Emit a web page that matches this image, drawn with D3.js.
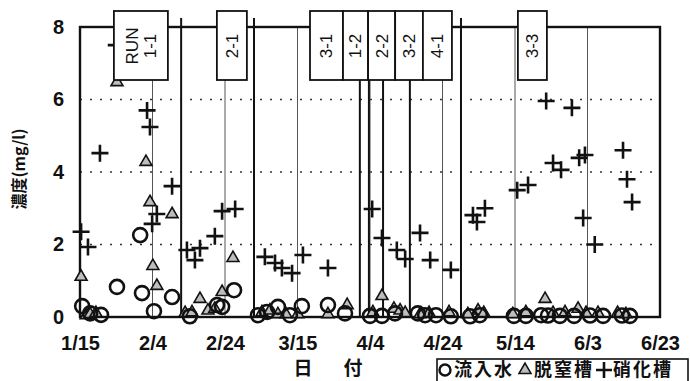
<!DOCTYPE html>
<html>
<head>
<meta charset="utf-8">
<script src="https://cdn.jsdelivr.net/npm/d3@7"></script>
<style>
  body { margin: 0; background: #fff; }
  svg { display: block; font-family: "Liberation Sans", Arial, sans-serif; }
  .jp { font-family: "Noto Sans CJK JP", "Liberation Sans", sans-serif; }
</style>
</head>
<body>
<figure id="chart" style="margin:0"></figure>
<script>
// x values are days counted from 1/15, y values are mg/l
const tickDays = [0, 20, 40, 60, 80, 100, 120, 140, 160];
const tickLabels = ['1/15', '2/4', '2/24', '3/15', '4/4', '4/24', '5/14', '6/3', '6/23'];
const yTicks = [0, 2, 4, 6, 8];
const yGrid = [2, 4, 6];

// run boundaries (day) and run labels
const runBoundaries = [27.9, 48, 77.2, 79.7, 83.6, 91, 105.1];
const runLabels = ['RUN|1-1', '2-1', '3-1', '1-2', '2-2', '3-2', '4-1', '3-3'];
const runLabelDays = [16.8, 41.9, 68, 76, 83.2, 90.8, 98.6, 124.8];

// 流入水
const inflow = [
  [0.6, 0.3], [2.8, 0.1], [5.8, 0.06], [10.2, 0.83], [16.6, 2.26], [17.1, 0.66],
  [20.4, 0.16], [25.4, 0.55], [30.3, 0.02], [37.8, 0.33], [39.2, 0.28], [42.5, 0.74],
  [49.1, 0.05], [51.6, 0.14], [54.6, 0.28], [57.9, 0.05], [61.2, 0.3], [68.4, 0.33],
  [73.1, 0.1], [80, 0.03], [83.3, 0.03], [86.9, 0.1], [93.2, 0.1], [95.2, 0.05],
  [98.2, 0.05], [102.3, 0.02], [107.6, 0.02], [110.3, 0.05], [119.7, 0.03], [123, 0.03],
  [127.2, 0.05], [129.1, 0.04], [132.4, 0.03], [136.3, 0.03], [140.7, 0.04], [144.3, 0.03],
  [149.5, 0.04], [151.7, 0.03]
];

// 脱窒槽
const denitr = [
  [10.2, 6.45], [18.2, 4.25], [19.3, 3.14], [25.4, 2.81], [20.1, 1.38], [21.2, 0.83],
  [0.3, 1.08], [1.7, 0.02], [2.8, 0.05], [4.4, 0.08], [29, 0.08], [30.9, 0.1],
  [33.1, 0.47], [35.3, 0.15], [37.2, 0.2], [39.2, 0.66], [42.2, 1.6], [50.2, 0.1],
  [52.4, 0.15], [54.6, 0.05], [56.8, 0.05], [60.1, 0.05], [68.4, 0.05], [73.7, 0.3],
  [80.8, 0.1], [83.3, 0.55], [86.6, 0.2], [88.3, 0.15], [89.7, 0.08], [93.8, 0.05],
  [96.3, 0.08], [101.8, 0.1], [107, 0.05], [109.8, 0.15], [111.4, 0.08], [119.4, 0.05],
  [123, 0.1], [128.3, 0.47], [130.5, 0.08], [133.8, 0.1], [137.4, 0.2], [139.6, 0.08],
  [142.9, 0.08], [148.3, 0.08], [150.6, 0.05]
];

// 硝化槽
const nitr = [
  [0.3, 2.35], [2.2, 1.93], [5.5, 4.52], [10, 7.5], [18.5, 5.7], [19.3, 5.24],
  [21.2, 2.84], [19.9, 2.57], [25.4, 3.61], [29.5, 1.85], [31.7, 1.57], [33.1, 1.9],
  [37.2, 2.23], [39.2, 2.92], [42.8, 2.98], [51, 1.66], [53.8, 1.49], [55.7, 1.35],
  [58.5, 1.21], [61.5, 1.71], [68.4, 1.35], [80.6, 2.98], [83.3, 2.18], [87.4, 1.85],
  [89.7, 1.6], [93.8, 2.32], [96.6, 1.57], [102.3, 1.3], [108.4, 2.81], [109.5, 2.62],
  [111.7, 3.0], [120.6, 3.5], [123.6, 3.64], [128.6, 5.96], [130.5, 4.25], [132.7, 4.06],
  [135.7, 5.77], [137.7, 4.39], [139.3, 4.47], [138.8, 2.73], [142, 2.0], [149.8, 4.6],
  [150.9, 3.8], [152.3, 3.17]
];

const W = 690, H = 381;
const pLeft = 80, pRight = 660, pTop = 27, pBottom = 317;

const svg = d3.select('#chart')
  .append('svg')
  .attr('width', W)
  .attr('height', H);

const x = d3.scaleLinear().domain([0, 160]).range([pLeft, pRight]);
const y = d3.scaleLinear().domain([0, 8]).range([pBottom, pTop]);

// dotted horizontal grid
svg.append('g')
  .selectAll('line')
  .data(yGrid)
  .enter()
  .append('line')
  .attr('x1', pLeft).attr('x2', pRight)
  .attr('y1', d => y(d)).attr('y2', d => y(d))
  .attr('stroke', '#333')
  .attr('stroke-width', 1.4)
  .attr('stroke-dasharray', '2,8');

// thin vertical grid at the date ticks
svg.append('g')
  .selectAll('line')
  .data(tickDays.slice(1, -1))
  .enter()
  .append('line')
  .attr('x1', d => x(d)).attr('x2', d => x(d))
  .attr('y1', pTop).attr('y2', pBottom)
  .attr('stroke', '#555')
  .attr('stroke-width', 1);

// run boundaries
svg.append('g')
  .selectAll('line')
  .data(runBoundaries)
  .enter()
  .append('line')
  .attr('x1', d => x(d)).attr('x2', d => x(d))
  .attr('y1', 18).attr('y2', pBottom)
  .attr('stroke', '#111')
  .attr('stroke-width', 2);

// frame
svg.append('rect')
  .attr('x', pLeft).attr('y', pTop)
  .attr('width', pRight - pLeft).attr('height', pBottom - pTop)
  .attr('fill', 'none')
  .attr('stroke', '#111')
  .attr('stroke-width', 2.4);

// axes
const xAxis = svg.append('g')
  .attr('transform', 'translate(0,' + pBottom + ')')
  .call(d3.axisBottom(x).tickValues(tickDays).tickFormat((d, i) => tickLabels[i]).tickSize(0).tickPadding(19));
xAxis.select('.domain').remove();
xAxis.selectAll('text')
  .attr('font-size', 20)
  .attr('font-weight', 'bold')
  .attr('font-family', '"Liberation Sans", Arial, sans-serif')
  .attr('fill', '#111');

const yAxis = svg.append('g')
  .attr('transform', 'translate(' + pLeft + ',0)')
  .call(d3.axisLeft(y).tickValues(yTicks).tickFormat(d3.format('d')).tickSize(0).tickPadding(16));
yAxis.select('.domain').remove();
yAxis.selectAll('text')
  .attr('font-size', 20)
  .attr('font-weight', 'bold')
  .attr('font-family', '"Liberation Sans", Arial, sans-serif')
  .attr('fill', '#111');

// markers
const tri = d3.symbol().type(d3.symbolTriangle).size(62);

svg.append('g')
  .selectAll('path')
  .data(denitr)
  .enter()
  .append('path')
  .attr('d', tri)
  .attr('transform', d => 'translate(' + x(d[0]) + ',' + (y(d[1]) - 1) + ')')
  .attr('fill', '#bdbdbd')
  .attr('stroke', '#111')
  .attr('stroke-width', 1.6);

svg.append('g')
  .selectAll('circle')
  .data(inflow)
  .enter()
  .append('circle')
  .attr('cx', d => x(d[0]))
  .attr('cy', d => y(d[1]))
  .attr('r', 7)
  .attr('fill', 'none')
  .attr('stroke', '#111')
  .attr('stroke-width', 2.6);

svg.append('g')
  .selectAll('path')
  .data(nitr)
  .enter()
  .append('path')
  .attr('d', d => {
    const cx = x(d[0]), cy = y(d[1]), s = 8.5;
    return 'M' + (cx - s) + ',' + cy + 'H' + (cx + s) + 'M' + cx + ',' + (cy - s) + 'V' + (cy + s);
  })
  .attr('stroke', '#111')
  .attr('stroke-width', 2.6)
  .attr('fill', 'none');

// run label boxes
const boxW = [54, 30, 33, 25, 27, 28, 29, 29];
const boxes = svg.append('g')
  .selectAll('g')
  .data(runLabels)
  .enter()
  .append('g')
  .attr('transform', (d, i) => 'translate(' + x(runLabelDays[i]) + ',0)');

boxes.append('rect')
  .attr('x', (d, i) => -boxW[i] / 2)
  .attr('y', 11)
  .attr('width', (d, i) => boxW[i])
  .attr('height', 69)
  .attr('fill', '#fff')
  .attr('stroke', '#111')
  .attr('stroke-width', 1.8);

boxes.each(function (d) {
  const parts = d.split('|');
  const g = d3.select(this);
  parts.forEach((p, j) => {
    const off = (j - (parts.length - 1) / 2) * 18;
    g.append('text')
      .attr('transform', 'translate(' + off + ',46) rotate(-90)')
      .attr('text-anchor', 'middle')
      .attr('dy', '0.35em')
      .attr('font-size', 17)
      .attr('fill', '#111')
      .text(p);
  });
});

// axis titles
svg.append('text')
  .attr('class', 'jp')
  .attr('transform', 'translate(19,169) rotate(-90)')
  .attr('text-anchor', 'middle')
  .attr('dy', '0.35em')
  .attr('font-size', 16)
  .attr('font-weight', 'bold')
  .attr('fill', '#111')
  .text('濃度(mg/l)');

svg.append('text')
  .attr('class', 'jp')
  .attr('x', 331)
  .attr('y', 368)
  .attr('text-anchor', 'middle')
  .attr('dy', '0.35em')
  .attr('font-size', 19)
  .attr('font-weight', 'bold')
  .attr('letter-spacing', 6)
  .attr('fill', '#111')
  .text('日　付');

// legend
const legend = svg.append('g');
legend.append('rect')
  .attr('x', 437).attr('y', 359)
  .attr('width', 251).attr('height', 25)
  .attr('fill', '#fff')
  .attr('stroke', '#111')
  .attr('stroke-width', 1.6);

const legendNames = ['流入水', '脱窒槽', '硝化槽'];
const legendX = [445, 525, 604];
legendNames.forEach((name, i) => {
  const cx = legendX[i], cy = 370;
  if (i === 0) {
    legend.append('circle').attr('cx', cx).attr('cy', cy).attr('r', 5.5)
      .attr('fill', 'none').attr('stroke', '#111').attr('stroke-width', 2.4);
  } else if (i === 1) {
    legend.append('path').attr('d', tri).attr('transform', 'translate(' + cx + ',' + cy + ')')
      .attr('fill', '#bdbdbd').attr('stroke', '#111').attr('stroke-width', 1.6);
  } else {
    legend.append('path')
      .attr('d', 'M' + (cx - 8) + ',' + cy + 'H' + (cx + 8) + 'M' + cx + ',' + (cy - 8) + 'V' + (cy + 8))
      .attr('stroke', '#111').attr('stroke-width', 2.6);
  }
  legend.append('text')
    .attr('class', 'jp')
    .attr('x', cx + 9)
    .attr('y', cy)
    .attr('dy', '0.36em')
    .attr('font-size', 18)
    .attr('font-weight', 'bold')
    .attr('letter-spacing', 2)
    .attr('fill', '#111')
    .text(name);
});
</script>
</body>
</html>
